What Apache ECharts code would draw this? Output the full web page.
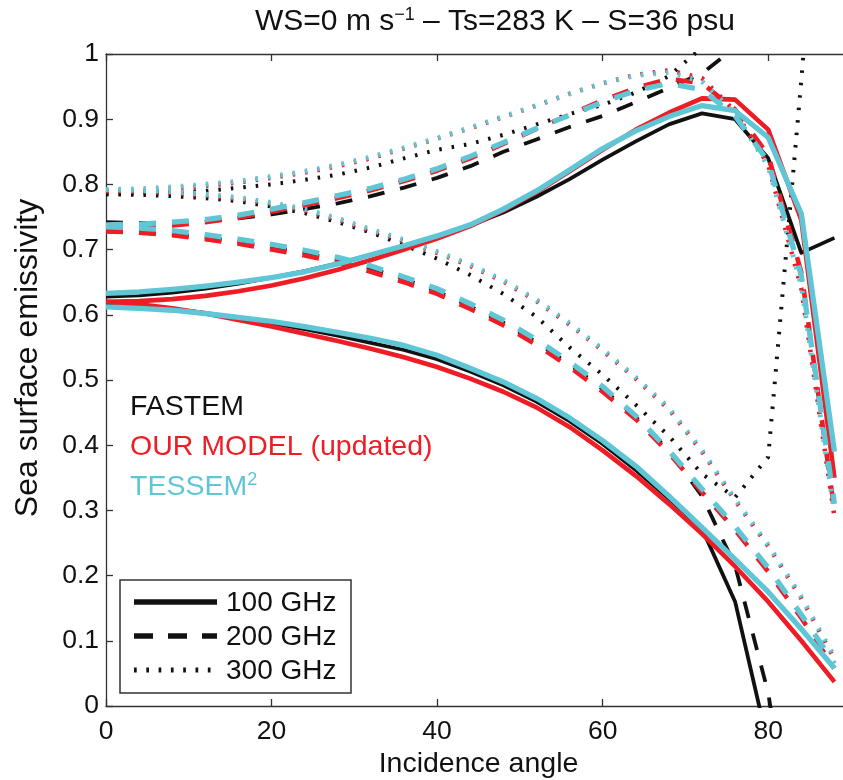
<!DOCTYPE html>
<html>
<head>
<meta charset="utf-8">
<script src="https://cdn.jsdelivr.net/npm/echarts@6/dist/echarts.min.js"></script>
<style>
html,body{margin:0;padding:0;background:#fff;}
#chart{width:843px;height:780px;}
</style>
</head>
<body>
<div id="chart"></div>
<script>
// Incidence angles (degrees)
var angles = [0,4,8,12,16,20,24,28,32,36,40,44,48,52,56,60,64,68,72,76,80,84,88];

// FASTEM (black)
var fastem100V = [0.628,0.630,0.634,0.640,0.648,0.657,0.667,0.679,0.692,0.706,0.720,0.737,0.757,0.781,0.808,0.838,0.866,0.892,0.909,0.900,0.840,0.695,0.718];
var fastem100H = [0.615,0.613,0.609,0.603,0.595,0.587,0.578,0.568,0.557,0.546,0.532,0.513,0.492,0.467,0.437,0.402,0.362,0.318,0.272,0.160,-0.06,null,null];
var fastem200V = [0.742,0.741,0.741,0.743,0.748,0.754,0.762,0.771,0.782,0.795,0.810,0.828,0.850,0.869,0.888,0.905,0.926,0.948,0.970,1.010,null,null,null];
var fastem200H = [0.728,0.727,0.724,0.719,0.712,0.704,0.695,0.684,0.671,0.655,0.636,0.613,0.588,0.558,0.524,0.486,0.443,0.392,0.322,0.215,0.020,-0.300,null];
var fastem300V = [0.785,0.786,0.788,0.790,0.795,0.800,0.807,0.815,0.826,0.840,0.853,0.862,0.876,0.892,0.908,0.922,0.941,0.966,1.010,null,null,null,null];
var fastem300H = [0.785,0.784,0.782,0.779,0.774,0.766,0.756,0.742,0.726,0.707,0.686,0.661,0.632,0.597,0.550,0.508,0.462,0.414,0.356,0.320,0.382,0.960,1.600];

// OUR MODEL (updated) (red)
var model100V = [0.620,0.621,0.624,0.629,0.636,0.645,0.656,0.669,0.684,0.700,0.717,0.736,0.760,0.788,0.820,0.853,0.884,0.910,0.932,0.930,0.884,0.745,0.350];
var model100H = [0.620,0.616,0.610,0.602,0.592,0.582,0.571,0.560,0.548,0.535,0.520,0.502,0.482,0.458,0.428,0.392,0.353,0.310,0.264,0.214,0.160,0.100,0.037];
var model200V = [0.733,0.734,0.737,0.742,0.749,0.758,0.768,0.779,0.791,0.805,0.821,0.840,0.862,0.885,0.907,0.929,0.948,0.962,0.955,0.915,0.845,0.665,0.300];
var model200H = [0.728,0.726,0.722,0.716,0.709,0.700,0.691,0.680,0.666,0.650,0.632,0.609,0.584,0.554,0.520,0.482,0.440,0.388,0.328,0.270,0.206,0.135,0.058];
var model300V = [0.790,0.791,0.794,0.798,0.803,0.810,0.818,0.828,0.840,0.855,0.870,0.886,0.903,0.921,0.939,0.955,0.968,0.975,0.963,0.912,0.830,0.640,0.290];
var model300H = [0.790,0.789,0.787,0.783,0.778,0.770,0.760,0.746,0.729,0.713,0.695,0.675,0.651,0.621,0.585,0.545,0.502,0.455,0.390,0.315,0.245,0.165,0.072];

// TESSEM2 (cyan)
var tessem100V = [0.633,0.635,0.639,0.644,0.650,0.657,0.666,0.678,0.692,0.706,0.721,0.738,0.762,0.790,0.822,0.855,0.882,0.904,0.921,0.913,0.872,0.755,0.390];
var tessem100H = [0.612,0.610,0.607,0.602,0.596,0.590,0.582,0.573,0.564,0.553,0.538,0.518,0.497,0.472,0.442,0.407,0.368,0.322,0.274,0.225,0.175,0.118,0.058];
var tessem200V = [0.738,0.739,0.742,0.746,0.753,0.762,0.772,0.783,0.794,0.808,0.824,0.843,0.864,0.886,0.906,0.926,0.944,0.955,0.945,0.905,0.835,0.660,0.310];
var tessem200H = [0.735,0.733,0.729,0.723,0.716,0.708,0.699,0.688,0.675,0.658,0.640,0.617,0.592,0.562,0.528,0.490,0.445,0.392,0.333,0.275,0.212,0.140,0.065];
var tessem300V = [0.792,0.793,0.796,0.800,0.805,0.812,0.820,0.830,0.842,0.856,0.871,0.887,0.904,0.921,0.939,0.955,0.967,0.972,0.958,0.908,0.828,0.645,0.295];
var tessem300H = [0.792,0.791,0.789,0.785,0.780,0.772,0.762,0.748,0.731,0.715,0.697,0.677,0.653,0.623,0.587,0.547,0.504,0.457,0.392,0.317,0.247,0.167,0.075];

var xTicks = [0,20,40,60,80];
var modelNames = ['FASTEM','OUR MODEL (updated)','TESSEM'];
var freqNames = ['100 GHz','200 GHz','300 GHz'];

var BLACK = '#111', RED = '#ee1c25', CYAN = '#5fc6d6';
var FONT = 'Liberation Sans, Arial, Helvetica, sans-serif';

var models = [
  {color: BLACK, w: 3.8, wd: 4.0, data: [[fastem100V, fastem100H],[fastem200V, fastem200H],[fastem300V, fastem300H]]},
  {color: RED,   w: 4.6, wd: 4.5, data: [[model100V, model100H],[model200V, model200H],[model300V, model300H]]},
  {color: CYAN,  w: 5.3, wd: 5.0, data: [[tessem100V, tessem100H],[tessem200V, tessem200H],[tessem300V, tessem300H]]}
];
var dashTypes = ['solid', [17,16], [2.5,10]];

function pairs(arr){
  return angles.map(function(a,i){ return [a, arr[i]]; });
}

var series = [];
models.forEach(function(m, mi){
  m.data.forEach(function(pol, fi){
    pol.forEach(function(arr, pi){
      series.push({
        type: 'line',
        name: modelNames[mi] + ' ' + freqNames[fi] + (pi === 0 ? ' V' : ' H'),
        data: pairs(arr),
        showSymbol: false,
        symbol: 'none',
        clip: true,
        z: 2 + mi,
        lineStyle: {color: m.color, width: fi === 2 ? m.wd : m.w, type: dashTypes[fi], cap: 'butt', join: 'round'},
        emphasis: {disabled: true},
        animation: false
      });
    });
  });
});

var legendY = [602, 636, 670];
var graphics = [
  {type:'text', x: 495, y: 22, style:{
    text: '{n|WS=0 m s}{s|−1}{n| – Ts=283 K – S=36 psu}',
    align:'center', verticalAlign:'middle',
    rich:{ n:{fontSize:30, fontFamily:FONT, fill:'#111'}, s:{fontSize:18, fontFamily:FONT, fill:'#111', verticalAlign:'top', padding:[0,0,13,0]} }
  }},
  {type:'text', x:28, y:358, rotation: Math.PI/2, style:{text:'Sea surface emissivity', fill:'#111', font:'32px ' + FONT, align:'center', verticalAlign:'middle'}},
  {type:'text', x:130, y:407, style:{text:'FASTEM', fill:BLACK, font:'28.5px ' + FONT, verticalAlign:'middle'}},
  {type:'text', x:130, y:447, style:{text:'OUR MODEL (updated)', fill:RED, font:'28.5px ' + FONT, verticalAlign:'middle'}},
  {type:'text', x:130, y:487, style:{
    text:'{n|TESSEM}{s|2}', verticalAlign:'middle',
    rich:{ n:{fontSize:28.5, fontFamily:FONT, fill:CYAN}, s:{fontSize:18, fontFamily:FONT, fill:CYAN, verticalAlign:'top', padding:[0,0,13,0]} }
  }},
  {type:'rect', shape:{x:120, y:580, width:231, height:113}, style:{fill:'#fff', stroke:'#333', lineWidth:1.5}, z:10}
];
dashTypes.forEach(function(t, i){
  graphics.push({type:'line', z:11, shape:{x1:134, y1:legendY[i], x2:217, y2:legendY[i]},
    style:{stroke:BLACK, lineWidth: i === 2 ? 5 : 5.5, lineDash: t === 'solid' ? null : (i===1 ? [19,15] : [2.7,9.6]), lineCap:'butt'}});
  graphics.push({type:'text', z:11, x:226, y:legendY[i]+1, style:{text:freqNames[i], fill:'#111', font:'28px ' + FONT, verticalAlign:'middle'}});
});

var axisLineStyle = {color:'#333', width:1.3};
var option = {
  animation: false,
  backgroundColor: '#fff',
  grid: {left:106, width:745, top:54, height:652, containLabel:false, outerBoundsMode:'none'},
  xAxis: [
    {type:'value', min:0, max:90, interval:20, position:'bottom',
     name:'Incidence angle', nameLocation:'middle', nameGap:42,
     nameTextStyle:{fontSize:28.5, fontFamily:FONT, color:'#111'},
     axisLine:{show:true, lineStyle:axisLineStyle},
     axisTick:{show:true, inside:true, length:7, lineStyle:axisLineStyle},
     axisLabel:{fontSize:26.5, fontFamily:FONT, color:'#111', margin:12,
       formatter:function(v){ return xTicks.indexOf(v) >= 0 ? String(v) : ''; }},
     splitLine:{show:false}},
    {type:'value', min:0, max:90, interval:20, position:'top',
     axisLine:{show:true, lineStyle:axisLineStyle},
     axisTick:{show:true, inside:true, length:7, lineStyle:axisLineStyle},
     axisLabel:{show:false}, splitLine:{show:false}}
  ],
  yAxis: [
    {type:'value', min:0, max:1, interval:0.1, position:'left',
     axisLine:{show:true, lineStyle:axisLineStyle},
     axisTick:{show:true, inside:true, length:7, lineStyle:axisLineStyle},
     axisLabel:{fontSize:26.5, fontFamily:FONT, color:'#111', margin:7},
     splitLine:{show:false}}
  ],
  series: series,
  graphic: graphics
};

var chart = echarts.init(document.getElementById('chart'), null, {renderer:'canvas'});
chart.setOption(option);
</script>
</body>
</html>
